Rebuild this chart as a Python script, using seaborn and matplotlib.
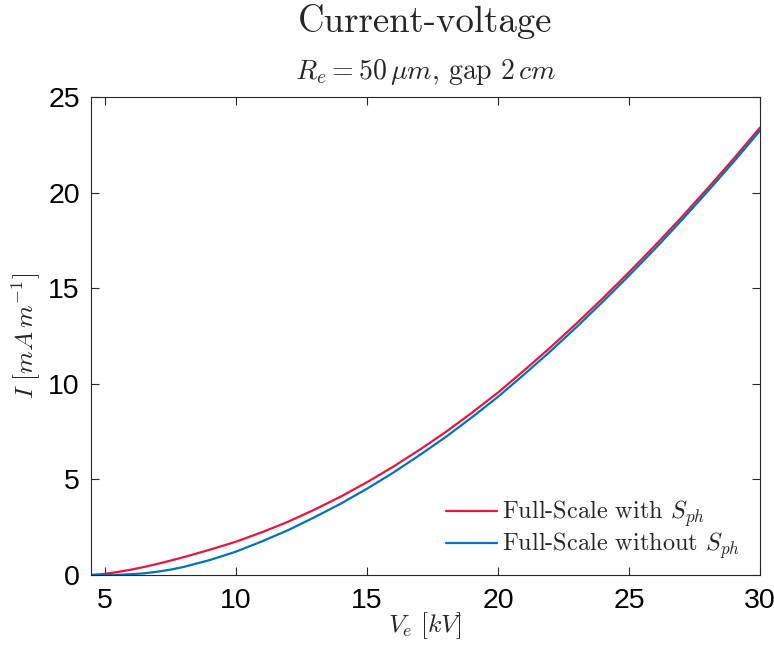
import numpy as np
import pandas as pd
import matplotlib
matplotlib.use("Agg")
import matplotlib.pyplot as plt
import seaborn as sns

# ---- data ----
v_with = [4.47, 5, 5.5, 6, 6.5, 7, 7.5, 8, 9, 10, 11, 12, 13, 14, 15, 16, 17, 18, 19, 20,
          21, 22, 23, 24, 25, 26, 27, 28, 29, 30]
i_with = [0.0, 0.06, 0.16, 0.28, 0.42, 0.58, 0.75, 0.93, 1.32, 1.74, 2.24, 2.79,
          3.42, 4.10, 4.85, 5.66, 6.54, 7.47, 8.48, 9.54, 10.70, 11.90, 13.16,
          14.47, 15.83, 17.24, 18.70, 20.22, 21.78, 23.40]
v_without = [4.47, 5, 5.5, 6, 6.5, 7, 7.5, 8, 9, 10, 11, 12, 13, 14, 15, 16, 17, 18, 19, 20,
             21, 22, 23, 24, 25, 26, 27, 28, 29, 30]
i_without = [0.0, 0.0, 0.01, 0.04, 0.09, 0.17, 0.28, 0.42, 0.78, 1.22, 1.76, 2.35,
             3.02, 3.73, 4.51, 5.35, 6.26, 7.21, 8.24, 9.32, 10.49, 11.70, 12.97,
             14.29, 15.66, 17.07, 18.54, 20.06, 21.62, 23.24]
labels = [r"Full-Scale with $S_{ph}$", r"Full-Scale without $S_{ph}$"]
colors = ["#E8163C", "#0072BD"]
x_ticks = [5, 10, 15, 20, 25, 30]
y_ticks = [0, 5, 10, 15, 20, 25]

df = pd.concat([
    pd.DataFrame({"V": v_with, "I": i_with, "series": labels[0]}),
    pd.DataFrame({"V": v_without, "I": i_without, "series": labels[1]}),
], ignore_index=True)

sns.set_theme(style="ticks")
plt.rcParams["font.family"] = ["cmr10", "DejaVu Serif"]
plt.rcParams["mathtext.fontset"] = "cm"
plt.rcParams["axes.formatter.use_mathtext"] = True
plt.rcParams["axes.unicode_minus"] = False

fig = plt.figure(figsize=(7.74, 6.46), dpi=100)
ax = fig.add_axes([91/774, 1-575/646, (760-91)/774, (575-97)/646])

sns.lineplot(data=df, x="V", y="I", hue="series", palette=colors,
             hue_order=labels, ax=ax, linewidth=1.6, sort=False,
             estimator=None)

ax.set_xlim(4.47, 30)
ax.set_ylim(0, 25)
ax.set_xticks(x_ticks)
ax.set_yticks(y_ticks)
ax.set_xticklabels([str(t) for t in x_ticks])
ax.set_yticklabels([str(t) for t in y_ticks])
ax.tick_params(direction="in", length=6, width=0.8, top=True, right=True,
               labelsize=20.5, colors="#262626", labelcolor="black",
               labelfontfamily="Liberation Sans")
ax.tick_params(axis="x", pad=9)
ax.tick_params(axis="y", pad=8)
for s in ax.spines.values():
    s.set_visible(True)
    s.set_linewidth(0.8)
    s.set_color("#262626")

ax.set_xlabel(r"$V_e\ [kV]$", fontsize=18.5, labelpad=-2)
ax.set_ylabel(r"$I\ [mA\,m^{-1}]$", fontsize=18.5, labelpad=4)

fig.text(425.5/774, 1-32/646, "Current-voltage", ha="center", va="baseline",
         fontsize=26.5)
fig.text(425.5/774, 1-79/646, r"$R_e = 50\,\mu m$, gap $2\,cm$", ha="center",
         va="baseline", fontsize=20)

leg = ax.legend(loc="lower right", bbox_to_anchor=(1 - 6/669, 0),
                frameon=False, fontsize=17.5,
                handlelength=2.1, handletextpad=0.2, labelspacing=0.05,
                borderaxespad=0.17)

fig.savefig("out.png", dpi=100)
